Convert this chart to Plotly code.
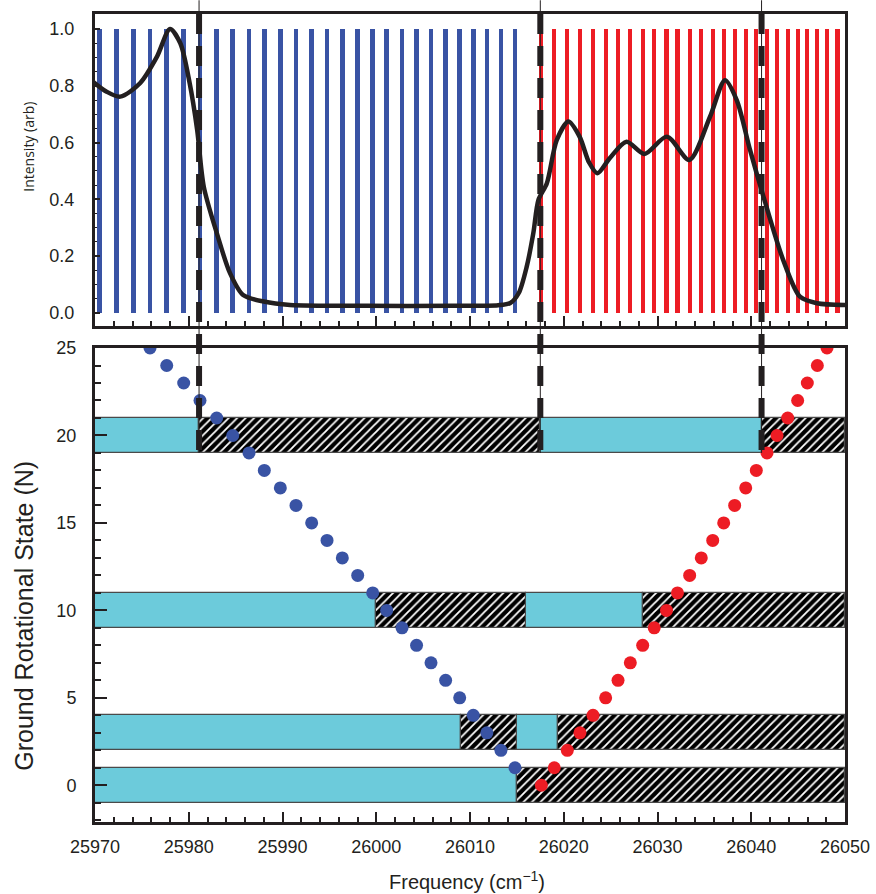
import plotly.graph_objects as go
from plotly.subplots import make_subplots

# ---- data -------------------------------------------------------------
# P-branch (blue) line positions, rotational state N = 1..28
p_N = list(range(1, 29))
p_freq = [26014.8, 26013.3, 26011.8, 26010.35, 26008.9, 26007.4, 26005.84,
          26004.3, 26002.75, 26001.11, 25999.62, 25998.02, 25996.38, 25994.75,
          25993.11, 25991.44, 25989.77, 25988.06, 25986.43, 25984.69,
          25982.98, 25981.2, 25979.46, 25977.65, 25975.87, 25974.08,
          25972.31, 25970.46]

# R-branch (red) line positions, rotational state N = 0..26
r_N = list(range(0, 27))
r_freq = [26017.61, 26018.99, 26020.38, 26021.73, 26023.12, 26024.47,
          26025.79, 26027.10, 26028.42, 26029.65, 26030.96, 26032.13,
          26033.43, 26034.67, 26035.89, 26037.06, 26038.23, 26039.41,
          26040.54, 26041.68, 26042.75, 26043.89, 26044.95, 26045.98,
          26047.05, 26048.08, 26049.19]

stick_height = 1.0

# Measured envelope of the spectrum
env_freq = [25969.8, 25971.2, 25972.7, 25974.8, 25976.6, 25978.0, 25979.1,
            25980.1, 25980.9, 25981.6, 25983.0, 25984.4, 25985.8, 25988.0,
            25990.8, 25999.0, 26008.0, 26013.0, 26014.3, 26015.2, 26016.05,
            26016.75, 26017.3, 26018.2, 26019.25, 26020.5, 26021.7, 26022.7,
            26023.6, 26024.9, 26026.7, 26028.6, 26031.0, 26033.4, 26035.6,
            26037.2, 26038.45, 26039.87, 26041.3, 26043.4, 26045.2, 26047.0,
            26050.0]
env_int = [0.814, 0.78, 0.762, 0.809, 0.902, 1.0, 0.95,
           0.809, 0.644, 0.445, 0.28, 0.14, 0.063, 0.04,
           0.028, 0.025, 0.025, 0.027, 0.035, 0.07, 0.163,
           0.28, 0.398, 0.457, 0.609, 0.674, 0.62, 0.53,
           0.492, 0.545, 0.603, 0.56, 0.621, 0.539, 0.691,
           0.82, 0.75, 0.574, 0.41, 0.187, 0.057, 0.034,
           0.028]

# Horizontal bands: (start, end, N-centre)
open_bands = [(25970, 25981.1, 20), (26017.5, 26041.1, 20),
              (25970, 26000, 10), (26016, 26028.5, 10),
              (25970, 26009, 3), (26015, 26019.4, 3),
              (25970, 26015, 0)]
closed_bands = [(25981.1, 26017.5, 20), (26041.1, 26050, 20),
                (26000, 26016, 10), (26028.5, 26050, 10),
                (26009, 26015, 3), (26019.4, 26050, 3),
                (26015, 26050, 0)]
band_height = 2

# Vertical marker frequencies and the band they stop at
marker_freq = [25981.1, 26017.5, 26041.1]
marker_stop_N = 19

x_range = [25970, 26050]
x_ticks = [25970, 25980, 25990, 26000, 26010, 26020, 26030, 26040, 26050]
top_range = [-0.046, 1.053]
top_ticks = [0.0, 0.2, 0.4, 0.6, 0.8, 1.0]
bot_range = [-2.1, 25]
bot_ticks = [0, 5, 10, 15, 20, 25]

# ---- styling ----------------------------------------------------------
BLUE = "#3953a4"
RED = "#ed1c24"
CYAN = "#6ccbdb"
INK = "#231f20"
FONT = "Liberation Sans, Arial, sans-serif"

top_dom = [0.6139, 1.0]
bot_dom = [0.0, 0.5866]

fig = make_subplots(rows=2, cols=1, shared_xaxes=False)

# stick spectrum
fig.add_trace(go.Bar(x=p_freq, y=[stick_height] * len(p_freq), width=0.5,
                     marker=dict(color=BLUE, line=dict(width=0)),
                     showlegend=False), row=1, col=1)
fig.add_trace(go.Bar(x=r_freq, y=[stick_height] * len(r_freq), width=0.45,
                     marker=dict(color=RED, line=dict(width=0)),
                     showlegend=False), row=1, col=1)
fig.add_trace(go.Scatter(x=env_freq, y=env_int, mode="lines",
                         line=dict(color=INK, width=4.5, shape="spline",
                                   smoothing=0.8),
                         showlegend=False), row=1, col=1)


def add_bands(bands, marker):
    fig.add_trace(go.Bar(
        y=[b[2] for b in bands],
        x=[b[1] - b[0] for b in bands],
        base=[b[0] for b in bands],
        orientation="h", width=band_height,
        marker=marker, showlegend=False), row=2, col=1)


add_bands(open_bands, dict(color=CYAN, line=dict(color="#4a4a4a", width=1.2)))
add_bands(closed_bands, dict(color="black",
                             line=dict(color="#4a4a4a", width=1.2),
                             pattern=dict(shape="/", fgcolor="white",
                                          bgcolor="black", size=6,
                                          solidity=0.3, fillmode="replace")))

fig.add_trace(go.Scatter(x=p_freq, y=p_N, mode="markers",
                         marker=dict(color=BLUE, size=13, line=dict(width=0)),
                         showlegend=False), row=2, col=1)
fig.add_trace(go.Scatter(x=r_freq, y=r_N, mode="markers",
                         marker=dict(color=RED, size=13, line=dict(width=0)),
                         showlegend=False), row=2, col=1)

# dashed markers spanning both panels
stop_paper = bot_dom[0] + (bot_dom[1] - bot_dom[0]) * \
    (marker_stop_N - bot_range[0]) / (bot_range[1] - bot_range[0])
for f in marker_freq:
    fig.add_shape(type="line", xref="x2", yref="paper", x0=f, x1=f,
                  y0=1.017, y1=stop_paper, layer="above",
                  line=dict(color=INK, width=1))
    fig.add_shape(type="line", xref="x2", yref="paper", x0=f, x1=f,
                  y0=1.0, y1=stop_paper, layer="above",
                  line=dict(color=INK, width=6, dash="20px,12px"))

axis_common = dict(showline=True, mirror=True, linewidth=3, linecolor=INK,
                   showgrid=False, zeroline=False, ticks="inside",
                   tickcolor=INK, tickwidth=2, automargin=False,
                   tickfont=dict(family=FONT, size=18, color=INK))

fig.update_xaxes(**axis_common, range=x_range, tickvals=x_ticks, ticklen=10,
                 tickformat="d",
                 minor=dict(dtick=2, ticks="inside", ticklen=5, tickwidth=1.5,
                            tickcolor=INK))
fig.update_xaxes(showticklabels=False, row=1, col=1, matches="x2")
fig.update_xaxes(row=2, col=1, ticklabelstandoff=6)

fig.update_yaxes(**axis_common)
fig.update_yaxes(row=1, col=1, range=top_range, tickvals=top_ticks,
                 tickformat=".1f", ticklen=5, ticklabelstandoff=14,
                 minor=dict(dtick=0.05, ticks="inside", ticklen=2,
                            tickwidth=1, tickcolor=INK))
fig.update_yaxes(row=2, col=1, range=bot_range, tickvals=bot_ticks,
                 ticklen=12, ticklabelstandoff=12,
                 minor=dict(dtick=1, ticks="inside", ticklen=6,
                            tickwidth=1.5, tickcolor=INK))

fig.update_layout(
    width=876, height=894,
    margin=dict(l=95, r=31, t=14, b=72, autoexpand=False),
    paper_bgcolor="white", plot_bgcolor="white",
    barmode="overlay", bargap=0,
    xaxis=dict(domain=[0, 1]), xaxis2=dict(domain=[0, 1]),
    yaxis=dict(domain=top_dom), yaxis2=dict(domain=bot_dom),
    annotations=[
        dict(text="Intensity (arb)", xref="paper", yref="paper",
             x=-0.089, y=0.836, textangle=-90, showarrow=False,
             xanchor="center", yanchor="middle",
             font=dict(family="Open Sans, sans-serif", size=14, color=INK)),
        dict(text="Ground Rotational State (N)", xref="paper", yref="paper",
             x=-0.095, y=0.255, textangle=-90, showarrow=False,
             xanchor="center", yanchor="middle",
             font=dict(family=FONT, size=25, color=INK)),
        dict(text="Frequency (cm<sup>\u22121</sup>)", xref="paper",
             yref="paper", x=0.496, y=-0.072, showarrow=False,
             xanchor="center", yanchor="middle",
             font=dict(family=FONT, size=20, color=INK)),
    ],
)

fig.write_html("out.html")
